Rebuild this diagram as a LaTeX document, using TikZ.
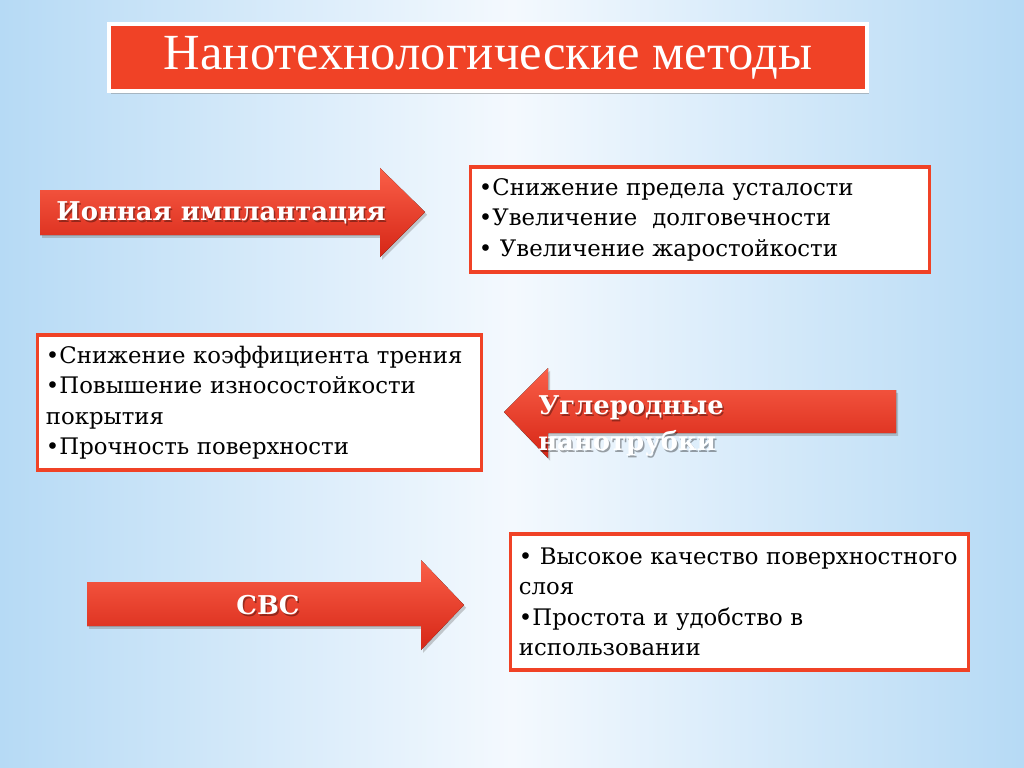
\documentclass[tikz,border=0pt]{standalone}
\usepackage{fontspec}
\setmainfont{Liberation Serif}
\newfontfamily\cent{DejaVu Serif}
\usetikzlibrary{positioning,shadows}
\definecolor{slidered}{RGB}{240,66,38}
\definecolor{arrowtop}{RGB}{250,95,72}
\definecolor{arrowbot}{RGB}{214,38,22}
\definecolor{bgblue}{RGB}{182,218,245}
\definecolor{bgpale}{RGB}{244,249,254}

\begin{document}
\begin{tikzpicture}[x=0.025cm, y=-0.025cm,
        heading/.style={rectangle, draw=white, line width=2.4pt, fill=slidered, minimum width=18.95cm, minimum height=1.675cm, text=white, font=\fontsize{36}{40}\selectfont, drop shadow={opacity=0.45, shadow xshift=1.5pt, shadow yshift=-2pt}},
        effect/.style={rectangle, draw=slidered, line width=2.2pt, fill=white, align=left, inner xsep=0.2cm, inner ysep=0pt, font=\cent\fontsize{16.2}{21.7}\selectfont, drop shadow={opacity=0.3, shadow xshift=1pt, shadow yshift=-1.5pt}},
        method/.style={top color=arrowtop, bottom color=arrowbot, drop shadow={opacity=0.4, shadow xshift=1.5pt, shadow yshift=-2pt}},
        lbl/.style={text=white, align=left, inner sep=0pt, font=\cent\bfseries\fontsize{18.4}{25.5}\selectfont},
        lblsh/.style={lbl, text=black, opacity=0.35}
    ]
        \fill[left color=bgblue, right color=bgblue, middle color=bgpale] (0,0) rectangle (1024,768);

        \node[heading] (title) at (488,57.5) {Нанотехнологические методы};

        % ion implantation
        \fill[method] (40,190) coordinate (ion) -- (380,190) -- (380,168) -- (425,212) coordinate (iontip) -- (380,257) -- (380,235) -- (40,235) -- cycle;
        \node[lblsh] at (222.5,215) {Ионная имплантация};
        \node[lbl] (ionlbl) at (221,213) {Ионная имплантация};
        \node[effect, text width=11.05cm, minimum height=2.625cm] (ioneff) at (700,219.5)
            {•Снижение предела усталости\\•Увеличение~ долговечности\\• Увеличение жаростойкости};

        % carbon nanotubes
        \fill[method] (896,390) coordinate (cnt) -- (548,390) -- (548,368) -- (504,412) coordinate (cnttip) -- (548,458) -- (548,433) -- (896,433) -- cycle;
        \node[lblsh, anchor=north west] at (539.5,397) {Углеродные\\нанотрубки};
        \node[lbl, anchor=north west] (cntlbl) at (538,395) {Углеродные\\нанотрубки};
        \node[effect, text width=10.675cm, minimum height=3.375cm] (cnteff) at (259.5,402.5)
            {•Снижение коэффициента трения\\•Повышение износостойкости\\покрытия\\•Прочность поверхности};

        % SHS
        \fill[method] (87,582) coordinate (shs) -- (421,582) -- (421,560) -- (464,605) coordinate (shstip) -- (421,650) -- (421,626) -- (87,626) -- cycle;
        \node[lblsh] at (269.5,607) {СВС};
        \node[lbl] (shslbl) at (268,605) {СВС};
        \node[effect, text width=11.025cm, minimum height=3.4cm] (shseff) at (739.5,602)
            {• Высокое качество поверхностного\\слоя\\•Простота и удобство в\\использовании};
    \end{tikzpicture}
\end{document}
